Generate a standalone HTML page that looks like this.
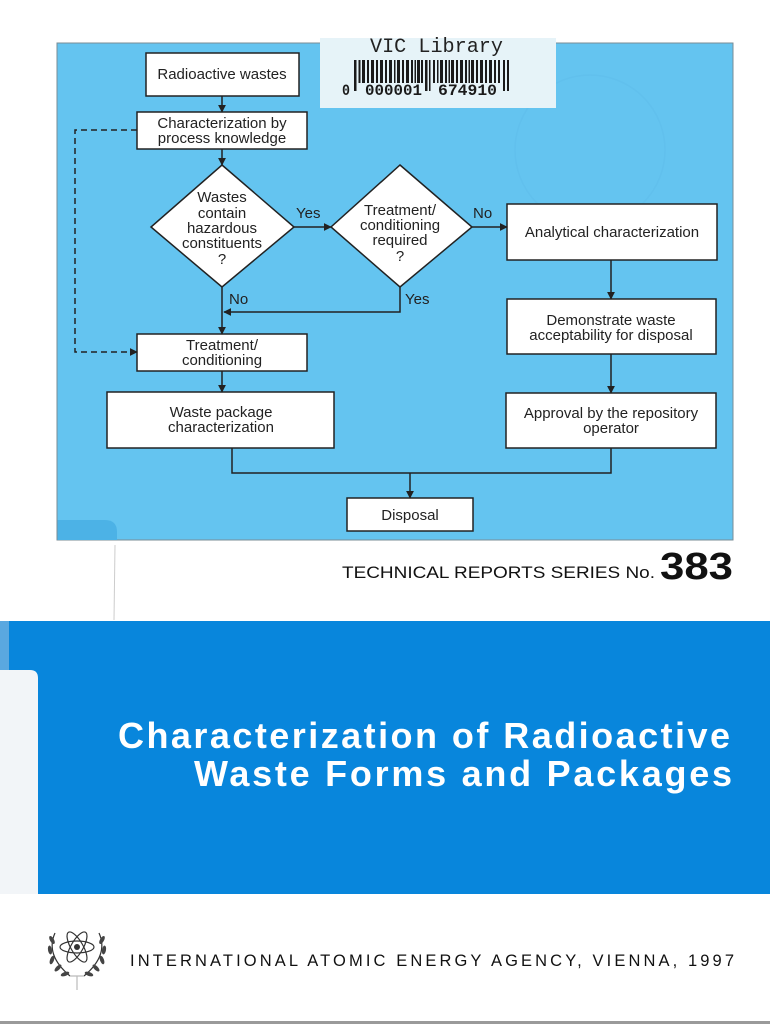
<!DOCTYPE html>
<html><head><meta charset="utf-8"><style>
html,body{margin:0;padding:0;background:#fff;}
svg{display:block;}
</style></head><body>
<svg width="770" height="1024" viewBox="0 0 770 1024" xmlns="http://www.w3.org/2000/svg" font-family="'Liberation Sans', sans-serif">
<defs>
<marker id="ah" viewBox="0 0 10 10" refX="9" refY="5" markerWidth="8" markerHeight="8" markerUnits="userSpaceOnUse" orient="auto">
<path d="M0,0 L10,5 L0,10 z" fill="#222"/>
</marker>
</defs>
<rect width="770" height="1024" fill="#ffffff"/>

<!-- Top panel -->
<rect x="57" y="43" width="676" height="497" fill="#64c4f0" stroke="#7a8c96" stroke-width="1"/>
<path d="M57.5,520 L105,520 Q117,520 117,532 L117,540 L57.5,540 z" fill="#4cb2e6"/>
<!-- faint stamp -->
<circle cx="590" cy="150" r="75" fill="none" stroke="#5cbbe8" stroke-width="1.5" opacity="0.35"/>

<!-- barcode label -->
<rect x="320" y="38" width="236" height="70" fill="#e6f3f8"/>
<text x="370" y="52" font-family="'Liberation Mono', monospace" font-size="20" fill="#222" textLength="133" lengthAdjust="spacingAndGlyphs">VIC Library</text>
<g fill="#1a1a1a">
<rect x="354" y="60" width="2.5" height="31"/>
<rect x="358.5" y="60" width="2" height="23"/><rect x="362" y="60" width="3" height="23"/><rect x="367" y="60" width="2" height="23"/>
<rect x="371" y="60" width="3" height="23"/><rect x="376" y="60" width="2" height="23"/><rect x="380" y="60" width="3" height="23"/>
<rect x="385" y="60" width="2" height="23"/><rect x="389" y="60" width="3" height="23"/><rect x="394" y="60" width="1.5" height="23"/>
<rect x="397" y="60" width="3" height="23"/><rect x="402" y="60" width="2" height="23"/><rect x="406" y="60" width="3" height="23"/>
<rect x="411" y="60" width="2" height="23"/><rect x="414.5" y="60" width="1.5" height="23"/><rect x="417" y="60" width="3" height="23"/>
<rect x="421" y="60" width="2" height="23"/>
<rect x="425" y="60" width="2.5" height="31"/><rect x="429" y="60" width="1.5" height="31"/>
<rect x="433" y="60" width="2" height="23"/><rect x="437" y="60" width="1.5" height="23"/><rect x="440" y="60" width="3" height="23"/>
<rect x="445" y="60" width="2" height="23"/><rect x="448.5" y="60" width="1.5" height="23"/><rect x="451" y="60" width="3" height="23"/>
<rect x="456" y="60" width="2" height="23"/><rect x="460" y="60" width="3" height="23"/><rect x="465" y="60" width="2" height="23"/>
<rect x="468.5" y="60" width="1.5" height="23"/><rect x="471" y="60" width="3" height="23"/><rect x="476" y="60" width="2" height="23"/>
<rect x="480" y="60" width="3" height="23"/><rect x="485" y="60" width="2" height="23"/><rect x="489" y="60" width="3" height="23"/>
<rect x="494" y="60" width="2" height="23"/><rect x="498" y="60" width="2" height="23"/>
<rect x="503" y="60" width="2" height="31"/><rect x="507" y="60" width="2" height="31"/>
</g>
<g font-family="'Liberation Mono', monospace" font-weight="bold" font-size="16" fill="#1a1a1a">
<text x="342" y="95" textLength="8" lengthAdjust="spacingAndGlyphs">0</text>
<text x="365" y="95" textLength="57" lengthAdjust="spacingAndGlyphs">000001</text>
<text x="438" y="95" textLength="59" lengthAdjust="spacingAndGlyphs">674910</text>
</g>

<!-- Boxes -->
<g fill="#fff" stroke="#222" stroke-width="1.5">
<rect x="146" y="53" width="153" height="43"/>
<rect x="137" y="112" width="170" height="37"/>
<polygon points="222,165 294,227 222,287 151,227"/>
<polygon points="400,165 472,227 400,287 331,227"/>
<rect x="507" y="204" width="210" height="56"/>
<rect x="507" y="299" width="209" height="55"/>
<rect x="137" y="334" width="170" height="37"/>
<rect x="107" y="392" width="227" height="56"/>
<rect x="506" y="393" width="210" height="55"/>
<rect x="347" y="498" width="126" height="33"/>
</g>

<!-- Connectors -->
<g stroke="#222" stroke-width="1.5" fill="none">
<line x1="222" y1="96" x2="222" y2="112" marker-end="url(#ah)"/>
<line x1="222" y1="149" x2="222" y2="165" marker-end="url(#ah)"/>
<line x1="294" y1="227" x2="331" y2="227" marker-end="url(#ah)"/>
<line x1="472" y1="227" x2="507" y2="227" marker-end="url(#ah)"/>
<line x1="611" y1="260" x2="611" y2="299" marker-end="url(#ah)"/>
<line x1="611" y1="354" x2="611" y2="393" marker-end="url(#ah)"/>
<line x1="222" y1="287" x2="222" y2="334" marker-end="url(#ah)"/>
<polyline points="400,287 400,312 224,312" marker-end="url(#ah)"/>
<line x1="222" y1="371" x2="222" y2="392" marker-end="url(#ah)"/>
<polyline points="232,448 232,473 611,473 611,448"/>
<line x1="410" y1="473" x2="410" y2="498" marker-end="url(#ah)"/>
<polyline points="137,130 75,130 75,352 137,352" stroke-dasharray="6,4" marker-end="url(#ah)"/>
</g>

<!-- Diagram text -->
<g font-size="15" fill="#222" text-anchor="middle">
<text x="222" y="79">Radioactive wastes</text>
<text x="222" y="128">Characterization by</text>
<text x="222" y="143">process knowledge</text>
<text x="222" y="202">Wastes</text>
<text x="222" y="218">contain</text>
<text x="222" y="233">hazardous</text>
<text x="222" y="248">constituents</text>
<text x="222" y="264">?</text>
<text x="400" y="215">Treatment/</text>
<text x="400" y="230">conditioning</text>
<text x="400" y="245">required</text>
<text x="400" y="261">?</text>
<text x="612" y="237">Analytical characterization</text>
<text x="611" y="325">Demonstrate waste</text>
<text x="611" y="340">acceptability for disposal</text>
<text x="222" y="350">Treatment/</text>
<text x="222" y="365">conditioning</text>
<text x="221" y="417">Waste package</text>
<text x="221" y="432">characterization</text>
<text x="611" y="418">Approval by the repository</text>
<text x="611" y="433">operator</text>
<text x="410" y="520">Disposal</text>
</g>
<g font-size="15" fill="#222">
<text x="296" y="218">Yes</text>
<text x="473" y="218">No</text>
<text x="229" y="304">No</text>
<text x="405" y="304">Yes</text>
</g>

<!-- Series line -->
<text x="342" y="578" font-size="16.5" fill="#111" textLength="313" lengthAdjust="spacingAndGlyphs">TECHNICAL REPORTS SERIES No.</text>
<text x="660" y="579" font-size="38" font-weight="bold" fill="#111" textLength="73" lengthAdjust="spacingAndGlyphs">383</text>

<!-- scanner artifact -->
<line x1="115" y1="545" x2="114" y2="620" stroke="#ccc" stroke-width="1"/>

<!-- Blue band -->
<rect x="0" y="621" width="770" height="273" fill="#0886dc"/>
<rect x="0" y="621" width="9" height="50" fill="#5aa8e0"/>
<path d="M0,670 L30,670 Q38,670 38,678 L38,894 L0,894 z" fill="#f2f5f8"/>
<text x="118" y="748" font-size="36" font-weight="bold" fill="#fff" textLength="612" lengthAdjust="spacing">Characterization of Radioactive</text>
<text x="194" y="786" font-size="36" font-weight="bold" fill="#fff" textLength="538" lengthAdjust="spacing">Waste Forms and Packages</text>

<!-- Emblem -->
<g stroke="#333" stroke-width="1.2" fill="none">
<ellipse cx="77" cy="947" rx="17" ry="6"/>
<ellipse cx="77" cy="947" rx="17" ry="6" transform="rotate(60 77 947)"/>
<ellipse cx="77" cy="947" rx="17" ry="6" transform="rotate(120 77 947)"/>
<path d="M55,933 Q45,955 70,976"/>
<path d="M99,933 Q109,955 84,976"/>
<path d="M70,976 L84,976 M77,976 L77,990" stroke="#bbb"/>
</g>
<circle cx="77" cy="947" r="3" fill="#333"/>
<g fill="#444">
<ellipse cx="52" cy="940" rx="2" ry="4.5" transform="rotate(-30 52 940)"/>
<ellipse cx="50" cy="950" rx="2" ry="4.5" transform="rotate(-10 50 950)"/>
<ellipse cx="52" cy="960" rx="2" ry="4.5" transform="rotate(20 52 960)"/>
<ellipse cx="58" cy="968" rx="2" ry="4.5" transform="rotate(45 58 968)"/>
<ellipse cx="65" cy="974" rx="2" ry="4.5" transform="rotate(70 65 974)"/>
<ellipse cx="102" cy="940" rx="2" ry="4.5" transform="rotate(30 102 940)"/>
<ellipse cx="104" cy="950" rx="2" ry="4.5" transform="rotate(10 104 950)"/>
<ellipse cx="102" cy="960" rx="2" ry="4.5" transform="rotate(-20 102 960)"/>
<ellipse cx="96" cy="968" rx="2" ry="4.5" transform="rotate(-45 96 968)"/>
<ellipse cx="89" cy="974" rx="2" ry="4.5" transform="rotate(-70 89 974)"/>
</g>

<text x="130" y="966" font-size="16.5" fill="#111" textLength="604" lengthAdjust="spacing">INTERNATIONAL ATOMIC ENERGY AGENCY, VIENNA, 1997</text>

<!-- bottom edge -->
<rect x="0" y="1021" width="770" height="3" fill="#9a9a9a"/>
</svg>
</body></html>
